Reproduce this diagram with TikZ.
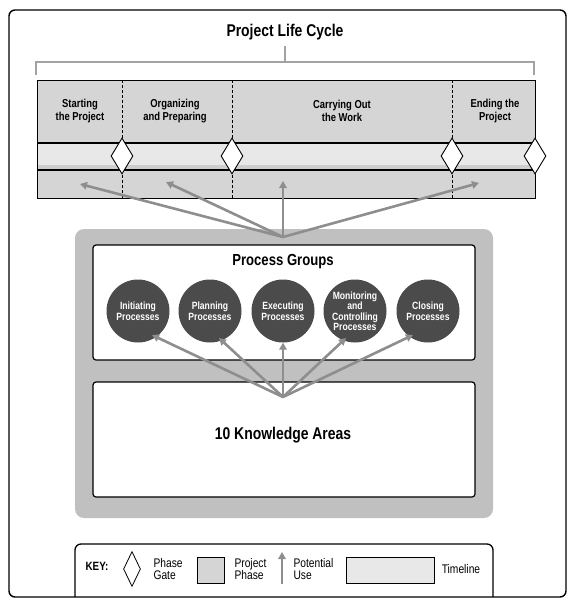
\documentclass[tikz,border=0pt]{standalone}
\usepackage{fontspec}
\setmainfont{Liberation Sans}[FakeStretch=0.82]
\usetikzlibrary{shapes.geometric,arrows.meta}
\definecolor{phasegray}{HTML}{D5D5D5}
\definecolor{timegray}{HTML}{E8E8E8}
\definecolor{timeshade}{HTML}{CDCDCD}
\definecolor{arrowgray}{HTML}{8E8E8E}
\definecolor{bracketgray}{HTML}{A3A3A3}
\definecolor{panelgray}{HTML}{C0C0C0}
\definecolor{circlegray}{HTML}{4B4B4B}
\tikzset{
  gate/.style={draw=black, fill=white, line width=0.9pt, shape=diamond, aspect=0.61, minimum width=22pt, minimum height=36pt, inner sep=0pt},
  divider/.style={densely dashed, line width=0.6pt},
  usearrow/.style={draw=arrowgray, line width=2.6pt, -{Triangle[length=7pt,width=7.5pt]}},
  phaselabel/.style={align=center, font=\fontsize{11.5}{12.5}\selectfont\bfseries},
  procircle/.style={circle, fill=circlegray, minimum size=63pt, inner sep=0pt, text=white, align=center, font=\fontsize{10.5}{10.5}\selectfont\bfseries},
  whitebox/.style={draw=black, fill=white, line width=1.2pt, rounded corners=3pt},
  keytext/.style={align=left, anchor=west, font=\fontsize{12.5}{12.5}\selectfont},
}
\begin{document}
\begin{tikzpicture}[x=1pt,y=-1pt]
\useasboundingbox (0,0) rectangle (579,603);
% outer frame
\draw[line width=1.4pt, rounded corners=6pt] (9,10) rectangle (566,597);
% title and bracket
\node[font=\fontsize{17}{18}\selectfont\bfseries] (title) at (285,32) {Project Life Cycle};
\draw[bracketgray, line width=2.2pt] (36,75) -- (36,62) -- (534,62) -- (534,75);
\draw[bracketgray, line width=2pt] (285,46) -- (285,62);
% phase region
\fill[phasegray] (37,80) rectangle (535,198);
\fill[timegray] (37,143) rectangle (535,170);
\fill[timeshade] (37,165) rectangle (535,170);
\draw[line width=0.9pt] (37,80) rectangle (535,198);
\draw[line width=1.1pt] (37,143) -- (535,143);
\draw[line width=1.1pt] (37,170) -- (535,170);
\draw[divider] (122,80) -- (122,198);
\draw[divider] (232,80) -- (232,198);
\draw[divider] (452,80) -- (452,198);
\node[phaselabel] (p1) at (80,111) {Starting\\the Project};
\node[phaselabel] (p2) at (175,111) {Organizing\\and Preparing};
\node[phaselabel] (p3) at (342,111) {Carrying Out\\the Work};
\node[phaselabel] (p4) at (495,111) {Ending the\\Project};
\node[gate] (g1) at (122,156) {};
\node[gate] (g2) at (232,156) {};
\node[gate] (g3) at (452,156) {};
\node[gate] (g4) at (535,156) {};
% targets in phases
\coordinate (t1) at (80,184);
\coordinate (t2) at (166,182);
\coordinate (t3) at (283,181);
\coordinate (t4) at (479,183);
% panel
\fill[panelgray, rounded corners=9pt] (75,229) rectangle (493,518);
\draw[whitebox] (93,245) rectangle (475,360);
\draw[whitebox] (93,382) rectangle (475,497);
\node[font=\fontsize{16}{17}\selectfont\bfseries] (pg) at (283,262) {Process Groups};
\node[font=\fontsize{17}{18}\selectfont\bfseries] (ka) at (283,435) {10 Knowledge Areas};
\node[procircle] (c1) at (138,311) {Initiating\\Processes};
\node[procircle] (c2) at (210,311) {Planning\\Processes};
\node[procircle] (c3) at (283,311) {Executing\\Processes};
\node[procircle] (c4) at (355,311) {Monitoring\\and\\Controlling\\Processes};
\node[procircle] (c5) at (428,311) {Closing\\Processes};
% hubs
\coordinate (hubtop) at (283,237);
\coordinate (hubka) at (283,397);
\draw[usearrow] (hubtop) -- (t1);
\draw[usearrow] (hubtop) -- (t2);
\draw[usearrow] (hubtop) -- (t3);
\draw[usearrow] (hubtop) -- (t4);
\draw[usearrow] (hubka) -- (152,335);
\draw[usearrow] (hubka) -- (219,338);
\draw[usearrow] (hubka) -- (c3.south);
\draw[usearrow] (hubka) -- (346,338);
\draw[usearrow] (hubka) -- (413,335);
% key
\draw[line width=1.3pt, rounded corners=6pt] (75,597) -- (75,544) -- (493,544) -- (493,597);
\node[font=\fontsize{12}{12}\selectfont\bfseries] (key) at (97,566) {KEY:};
\node[gate, line width=0.8pt, minimum width=17pt, minimum height=35pt, aspect=0.5] (kg) at (132,569) {};
\node[keytext] (kgt) at (150,569) {Phase\\Gate};
\node[draw=black, fill=phasegray, line width=0.8pt, minimum width=27pt, minimum height=26pt, inner sep=0pt] (kp) at (210.5,570) {};
\node[keytext] (kpt) at (231,569) {Project\\Phase};
\coordinate (ka1) at (282,584);
\coordinate (ka2) at (282,552);
\draw[usearrow, line width=2.2pt] (ka1) -- (ka2);
\node[keytext] (kat) at (290,569) {Potential\\Use};
\node[draw=black, fill=timegray, line width=0.8pt, minimum width=88pt, minimum height=26pt, inner sep=0pt] (kt) at (390,570) {};
\node[font=\fontsize{12.5}{12.5}\selectfont] (ktt) at (461,569) {Timeline};
\end{tikzpicture}
\end{document}
